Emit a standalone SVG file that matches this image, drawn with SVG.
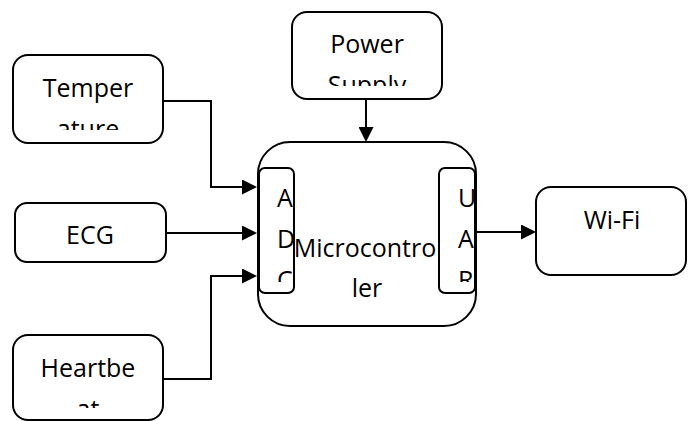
<svg xmlns="http://www.w3.org/2000/svg" width="691" height="421" viewBox="0 0 691 421">
<style>
.box{fill:#fff;stroke:#000;stroke-width:2}
.t{font-family:"Open Sans","Liberation Sans",sans-serif;font-size:25px;fill:#000}
.m{text-anchor:middle}
.c{fill:none;stroke:#000;stroke-width:2}
</style>
<defs>
<marker id="arr" markerUnits="userSpaceOnUse" markerWidth="15" markerHeight="15" refX="9" refY="7.5" orient="auto">
<path d="M0,0 L15,7.5 L0,15 Z" fill="#000"/>
</marker>
<clipPath id="cTemp"><rect x="14" y="56" width="148" height="74"/></clipPath>
<clipPath id="cPow"><rect x="293" y="13" width="148" height="73"/></clipPath>
<clipPath id="cHb"><rect x="14" y="336" width="148" height="72"/></clipPath>
<clipPath id="cAdc"><rect x="260" y="169" width="34" height="113"/></clipPath>
<clipPath id="cUart"><rect x="440" y="169" width="35" height="113"/></clipPath>
</defs>
<rect width="691" height="421" fill="#fff"/>
<g id="connectors">
<path class="c" d="M163,101 H211 V187 H251" marker-end="url(#arr)"/>
<path class="c" d="M166,233 H251" marker-end="url(#arr)"/>
<path class="c" d="M163,379 H211 V276 H251" marker-end="url(#arr)"/>
<path class="c" d="M366,99 V136" marker-end="url(#arr)"/>
<path class="c" d="M476,232 H530" marker-end="url(#arr)"/>
</g>
<g id="temperature">
<rect class="box" x="13" y="55" width="150" height="88" rx="15"/>
<g clip-path="url(#cTemp)">
<text class="t m" x="88" y="97">Temper</text>
<text class="t m" x="88" y="138">ature</text>
</g>
</g>
<g id="ecg">
<rect class="box" x="15" y="203" width="151" height="59" rx="12"/>
<text class="t m" x="90" y="244">ECG</text>
</g>
<g id="heartbeat">
<rect class="box" x="13" y="335" width="150" height="85" rx="15"/>
<g clip-path="url(#cHb)">
<text class="t m" x="88" y="377">Heartbe</text>
<text class="t m" x="88" y="418">at</text>
</g>
</g>
<g id="power-supply">
<rect class="box" x="292" y="12" width="150" height="87" rx="15"/>
<g clip-path="url(#cPow)">
<text class="t m" x="367" y="53">Power</text>
<text class="t m" x="367" y="94">Supply</text>
</g>
</g>
<g id="microcontroller">
<rect class="box" x="258" y="142" width="218" height="184" rx="32"/>
<g id="adc">
<rect class="box" x="259" y="168" width="35" height="125" rx="6"/>
<g clip-path="url(#cAdc)">
<text class="t" x="277" y="207">A</text>
<text class="t" x="277" y="248">D</text>
<text class="t" x="277" y="289">C</text>
</g>
</g>
<g id="uart">
<rect class="box" x="439" y="168" width="36" height="125" rx="6"/>
<g clip-path="url(#cUart)">
<text class="t" x="458" y="207">U</text>
<text class="t" x="458" y="248">A</text>
<text class="t" x="458" y="289">R</text>
</g>
</g>
<text class="t m" x="365" y="257">Microcontro</text>
<text class="t m" x="367" y="297">ler</text>
</g>
<g id="wifi">
<rect class="box" x="536" y="187" width="150" height="88" rx="15"/>
<text class="t m" x="612" y="229">Wi-Fi</text>
</g>
</svg>
